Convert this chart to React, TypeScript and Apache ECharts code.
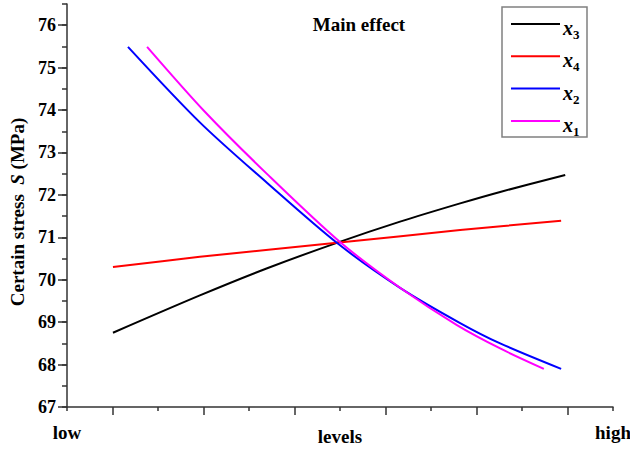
import React, { useEffect, useRef } from 'react';
import * as echarts from 'echarts';

// ---- data (coded level position along x, certain stress S in MPa) ----
const seriesNames = ['x3', 'x4', 'x2', 'x1'];
const seriesColors = ['#000000', '#ff0000', '#0000ff', '#ff00ff'];

const x3Levels = [1.01, 2.92, 4.4, 5.93, 7.32, 8.64, 9.52, 10.95];
const x3Stress = [68.75, 69.63, 70.27, 70.87, 71.37, 71.8, 72.07, 72.47];

const x4Levels = [1.01, 2.92, 5.93, 8.64, 10.86];
const x4Stress = [70.3, 70.54, 70.87, 71.17, 71.39];

const x2Levels = [1.34, 2.92, 4.4, 5.93, 7.32, 8.64, 9.52, 10.86];
const x2Stress = [75.49, 73.71, 72.28, 70.87, 69.81, 68.98, 68.5, 67.9];

const x1Levels = [1.76, 3.03, 4.4, 6.0, 7.32, 8.57, 9.52, 10.48];
const x1Stress = [75.49, 73.96, 72.49, 70.89, 69.81, 68.93, 68.38, 67.9];

const yTickValues = [67, 68, 69, 70, 71, 72, 73, 74, 75, 76];
const xEndLabels = ['low', 'high'];

const FONT = 'Liberation Serif';

export default function App() {
  const ref = useRef<HTMLDivElement>(null);

  useEffect(() => {
    if (!ref.current) return;
    const chart = echarts.init(ref.current, null, { renderer: 'svg' });
    const levelsList = [x3Levels, x4Levels, x2Levels, x1Levels];
    const stressList = [x3Stress, x4Stress, x2Stress, x1Stress];
    const axisColor = '#333333';
    const lineStyle = { color: axisColor, width: 1.5 };

    const series = seriesNames.map((name, i) => ({
      type: 'line',
      name,
      data: levelsList[i].map((x, j) => [x, stressList[i][j]]),
      symbol: 'none',
      smooth: 0.3,
      lineStyle: { color: seriesColors[i], width: 2 },
      itemStyle: { color: seriesColors[i] },
      yAxisIndex: 0,
    }));

    const legendTop = 24;
    const legendStep = 32.3;
    const legendElems: any[] = [
      {
        type: 'rect',
        shape: { x: 502, y: 7, width: 85, height: 130 },
        style: { fill: '#ffffff', stroke: '#808080', lineWidth: 1.5 },
        z: 10,
      },
    ];
    seriesNames.forEach((name, i) => {
      const y = legendTop + i * legendStep;
      legendElems.push({
        type: 'line',
        shape: { x1: 511, y1: y, x2: 560, y2: y },
        style: { stroke: seriesColors[i], lineWidth: 2 },
        z: 11,
      });
      legendElems.push({
        type: 'text',
        x: 563,
        y: y + 4,
        z: 11,
        style: {
          text: `{x|x}{s|${name.slice(1)}}`,
          verticalAlign: 'middle',
          align: 'left',
          rich: {
            x: { fontFamily: FONT, fontSize: 20, fontStyle: 'italic', fontWeight: 'bold', lineHeight: 26, fill: '#000' },
            s: { fontFamily: FONT, fontSize: 13, fontWeight: 'bold', lineHeight: 12, verticalAlign: 'bottom', fill: '#000' },
          },
        },
      });
    });

    chart.setOption({
      animation: false,
      backgroundColor: '#ffffff',
      grid: { left: 67, right: 17, top: 4, bottom: 43, containLabel: false, outerBoundsMode: 'none' },
      xAxis: {
        type: 'value',
        min: 0,
        max: 12,
        interval: 2,
        axisLine: { show: true, onZero: false, lineStyle },
        axisTick: { show: true, length: 4, lineStyle },
        minorTick: { show: true, splitNumber: 2, length: 8, lineStyle },
        splitLine: { show: false },
        minorSplitLine: { show: false },
        axisLabel: {
          formatter: (v: number) => (v === 0 ? xEndLabels[0] : v === 12 ? xEndLabels[1] : ''),
          margin: 16,
          fontFamily: FONT,
          fontWeight: 'bold',
          fontSize: 19,
          color: '#000',
          showMinLabel: true,
          showMaxLabel: true,
        },
        name: 'levels',
        nameLocation: 'middle',
        nameGap: 20,
        nameMoveOverlap: false,
        nameTextStyle: { fontFamily: FONT, fontWeight: 'bold', fontSize: 19, color: '#000' },
      },
      yAxis: [
        {
          type: 'value',
          min: 67,
          max: 76.5,
          interval: 0.5,
          axisLine: { show: true, onZero: false, lineStyle },
          axisTick: { show: true, length: 5, lineStyle },
          axisLabel: { show: false },
          splitLine: { show: false },
        },
        {
          type: 'value',
          min: 67,
          max: 76.5,
          position: 'left',
          offset: 0,
          axisLine: { show: false },
          axisTick: { show: true, length: 9, customValues: yTickValues, lineStyle },
          axisLabel: {
            customValues: yTickValues,
            margin: 11,
            fontFamily: FONT,
            fontWeight: 'bold',
            fontSize: 18,
            color: '#000',
          },
          splitLine: { show: false },
        },
      ],
      graphic: [
        {
          type: 'text',
          x: 359,
          y: 24,
          style: {
            text: 'Main effect',
            fontFamily: FONT,
            fontWeight: 'bold',
            fontSize: 19,
            fill: '#000',
            align: 'center',
            verticalAlign: 'middle',
          },
        },
        {
          type: 'text',
          x: 17,
          y: 212,
          rotation: Math.PI / 2,
          style: {
            text: '{a|Certain stress  }{b|S}{a| (MPa)}',
            align: 'center',
            verticalAlign: 'middle',
            rich: {
              a: { fontFamily: FONT, fontWeight: 'bold', fontSize: 19, fill: '#000' },
              b: { fontFamily: FONT, fontWeight: 'bold', fontStyle: 'italic', fontSize: 19, fill: '#000' },
            },
          },
        },
        ...legendElems,
      ],
      series,
    });

    return () => chart.dispose();
  }, []);

  return (
    <div
      ref={ref}
      style={{ position: 'fixed', left: 0, top: 0, width: 630, height: 450, background: '#fff' }}
    />
  );
}
